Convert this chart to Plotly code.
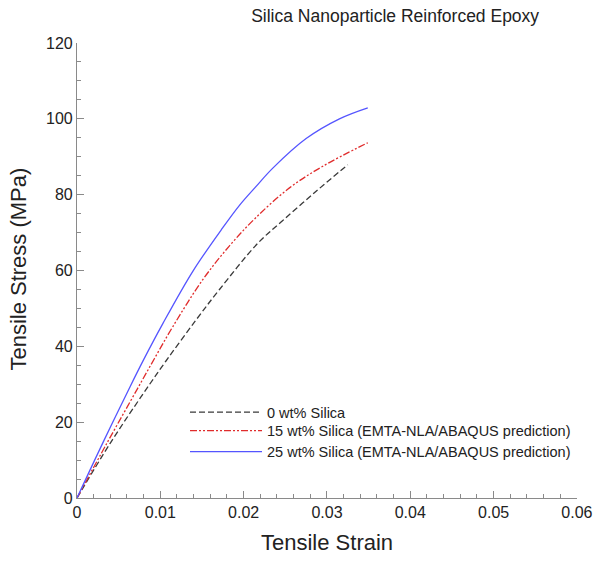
import plotly.graph_objects as go

strain_0 = [0, 0.0040, 0.0080, 0.0107, 0.0143, 0.0171, 0.0217, 0.0247, 0.0287, 0.0325]
stress_0 = [0, 14.5, 27.7, 36.2, 47.0, 55.0, 67.2, 73.2, 80.9, 87.9]

strain_15 = [0, 0.0036, 0.0072, 0.0093, 0.0115, 0.0151, 0.0183, 0.0214, 0.0255, 0.0295, 0.0349]
stress_15 = [0, 14.5, 28.6, 36.8, 45.2, 57.6, 66.5, 73.8, 81.8, 87.5, 93.7]

strain_25 = [0, 0.0032, 0.0064, 0.0080, 0.0103, 0.0139, 0.0175, 0.0195, 0.0215, 0.0235, 0.0275, 0.0315, 0.0349]
stress_25 = [0, 15.0, 29.5, 36.5, 46.0, 59.8, 71.3, 77.2, 82.2, 87.0, 94.8, 100.0, 102.9]

names = ["0 wt% Silica",
         "15 wt% Silica (EMTA-NLA/ABAQUS prediction)",
         "25 wt% Silica (EMTA-NLA/ABAQUS prediction)"]

x_tickvals = [0, 0.01, 0.02, 0.03, 0.04, 0.05, 0.06]
x_ticktext = ["0", "0.01", "0.02", "0.03", "0.04", "0.05", "0.06"]
y_tickvals = [0, 20, 40, 60, 80, 100, 120]
y_ticktext = ["0", "20", "40", "60", "80", "100", "120"]

FONT = "Liberation Sans, Arial, sans-serif"

fig = go.Figure()
fig.add_trace(go.Scatter(x=strain_0, y=stress_0, mode="lines", name=names[0], legend="legend",
                         line=dict(color="#3a3a3a", width=1.3, dash="6px,3px", shape="spline", smoothing=1.0)))
fig.add_trace(go.Scatter(x=strain_15, y=stress_15, mode="lines", name=names[1], legend="legend2",
                         line=dict(color="#e02c2c", width=1.3, dash="7px,2px,2px,2px,2px,2px", shape="spline", smoothing=1.0)))
fig.add_trace(go.Scatter(x=strain_25, y=stress_25, mode="lines", name=names[2], legend="legend3",
                         line=dict(color="#5555ff", width=1.3, shape="spline", smoothing=1.0)))

axis_common = dict(showline=True, linecolor="#8a8a8a", linewidth=1.2,
                   ticks="inside", tickcolor="#8a8a8a", tickwidth=1.2, ticklen=7,
                   showgrid=False, zeroline=False, mirror=False, automargin=False,
                   tickfont=dict(family=FONT, size=16, color="#222"))

fig.update_xaxes(range=[0, 0.06001], tickmode="array", tickvals=x_tickvals, ticktext=x_ticktext,
                 minor=dict(ticks="inside", dtick=0.002, tick0=0, ticklen=4, tickcolor="#8a8a8a", tickwidth=1.2),
                 **axis_common)
fig.update_yaxes(range=[0, 120.01], tickmode="array", tickvals=y_tickvals, ticktext=y_ticktext,
                 minor=dict(ticks="inside", dtick=5, tick0=0, ticklen=4, tickcolor="#8a8a8a", tickwidth=1.2),
                 **axis_common)

leg_common = dict(x=0.216, xanchor="left", yanchor="top", bgcolor="rgba(0,0,0,0)",
                  font=dict(family=FONT, size=14.5, color="#222"), itemwidth=72)

fig.update_layout(
    width=596, height=563,
    margin=dict(l=77, r=19, t=43, b=65, autoexpand=False),
    plot_bgcolor="white", paper_bgcolor="white",
    title=dict(text="Silica Nanoparticle Reinforced Epoxy", x=0.663, xanchor="center",
               xref="container", y=0.9716, yanchor="middle",
               font=dict(family=FONT, size=17.5, color="#222")),
    legend=dict(y=0.2237, **leg_common),
    legend2=dict(y=0.1831, **leg_common),
    legend3=dict(y=0.1369, **leg_common),
    showlegend=True,
    annotations=[
        dict(text="Tensile Strain", xref="paper", yref="paper", x=0.5, y=-0.098,
             xanchor="center", yanchor="middle", showarrow=False,
             font=dict(family=FONT, size=22, color="#222")),
        dict(text="Tensile Stress (MPa)", xref="paper", yref="paper", x=-0.116, y=0.502,
             xanchor="center", yanchor="middle", showarrow=False, textangle=-90,
             font=dict(family=FONT, size=22, color="#222")),
    ],
)

fig.write_html("out.html", config={"displayModeBar": False},
               post_script="document.body.style.margin='0';")
